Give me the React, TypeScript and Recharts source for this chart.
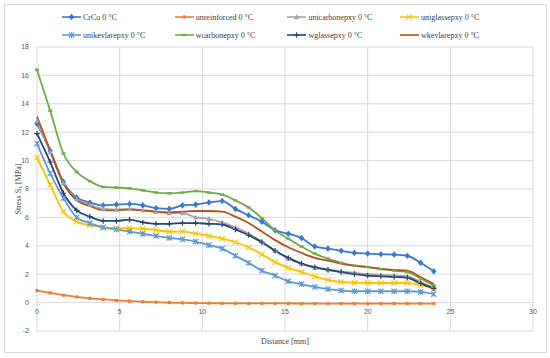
import { LineChart, Line, XAxis, YAxis, CartesianGrid } from 'recharts'

// distance along the sample [mm]
const DIST = [
  0, 0.8, 1.6, 2.4, 3.2, 4.0, 4.8, 5.6, 6.4, 7.2, 8.0, 8.8, 9.6, 10.4, 11.2, 12.0,
  12.8, 13.6, 14.4, 15.2, 16.0, 16.8, 17.6, 18.4, 19.2, 20.0, 20.8, 21.6, 22.4, 23.2, 24.0,
]

// stress Sx [MPa] per material
const CRCO = [
  12.6, 10.7, 8.5, 7.4, 7.05, 6.85, 6.9, 6.95, 6.85, 6.65, 6.6, 6.85, 6.9, 7.05, 7.15, 6.6,
  6.15, 5.7, 5.1, 4.85, 4.55, 3.95, 3.8, 3.65, 3.5, 3.45, 3.4, 3.38, 3.3, 2.8, 2.2,
]
const UNREINFORCED = [
  0.85, 0.68, 0.52, 0.4, 0.3, 0.22, 0.15, 0.1, 0.06, 0.03, 0.0, -0.02, -0.03, -0.04, -0.05, -0.05,
  -0.06, -0.06, -0.06, -0.06, -0.07, -0.07, -0.07, -0.07, -0.07, -0.07, -0.07, -0.07, -0.07, -0.07, -0.07,
]
const UNICARBON = [
  12.8, 10.6, 8.4, 7.3, 6.9, 6.6, 6.55, 6.6, 6.5, 6.4, 6.3, 6.3, 6.0, 5.9, 5.65, 5.3,
  4.85, 4.3, 3.65, 3.1, 2.75, 2.45, 2.35, 2.2, 2.1, 2.0, 1.95, 1.9, 1.85, 1.45, 1.05,
]
const UNIGLASS = [
  10.2, 8.3, 6.4, 5.7, 5.45, 5.3, 5.25, 5.25, 5.2, 5.1, 5.0, 5.0, 4.85, 4.7, 4.5, 4.25,
  3.9, 3.4, 2.85, 2.45, 2.15, 1.85, 1.6, 1.45, 1.4, 1.38, 1.38, 1.38, 1.38, 1.25, 0.95,
]
const UNIKEVLAR = [
  11.2, 9.1, 7.35, 6.0, 5.6, 5.3, 5.15, 5.0, 4.85, 4.7, 4.55, 4.45, 4.3, 4.05, 3.8, 3.3,
  2.8, 2.25, 1.9, 1.5, 1.3, 1.1, 0.95, 0.85, 0.8, 0.8, 0.8, 0.8, 0.8, 0.75, 0.6,
]
const WCARBON = [
  16.4, 13.5, 10.5, 9.2, 8.55, 8.15, 8.1, 8.05, 7.9, 7.75, 7.7, 7.75, 7.85, 7.75, 7.6, 7.2,
  6.7, 5.95, 5.1, 4.5, 3.95, 3.45, 3.1, 2.8, 2.6, 2.5, 2.35, 2.25, 2.15, 1.7, 1.2,
]
const WGLASS = [
  11.9, 9.9, 7.7, 6.5, 6.05, 5.75, 5.75, 5.85, 5.65, 5.55, 5.55, 5.6, 5.6, 5.55, 5.5, 5.15,
  4.75, 4.25, 3.65, 3.15, 2.75, 2.5, 2.3, 2.15, 2.0, 1.9, 1.85, 1.8, 1.75, 1.35, 1.0,
]
const WKEVLAR = [
  13.1, 10.7, 8.4, 7.2, 6.8, 6.5, 6.5, 6.55, 6.5, 6.4, 6.35, 6.4, 6.45, 6.45, 6.4, 6.05,
  5.6, 5.0, 4.4, 3.9, 3.5, 3.15, 2.95, 2.75, 2.6, 2.5, 2.4, 2.3, 2.25, 1.8, 1.3,
]

const X_TICKS = [0, 5, 10, 15, 20, 25, 30]
const Y_TICKS = [-2, 0, 2, 4, 6, 8, 10, 12, 14, 16, 18]
const Y_MIN = -2
const Y_MAX = 18

type Shape = 'diamond' | 'square' | 'triangle' | 'x' | 'star' | 'dash' | 'plus' | 'none'

const SERIES: { key: string; name: string; color: string; shape: Shape; values: number[] }[] = [
  { key: 'crco', name: 'CrCo 0 °C', color: '#3B78D2', shape: 'diamond', values: CRCO },
  { key: 'unre', name: 'unreinforced 0 °C', color: '#ED7D31', shape: 'square', values: UNREINFORCED },
  { key: 'ucarb', name: 'unicarbonepxy 0 °C', color: '#A5A5A5', shape: 'triangle', values: UNICARBON },
  { key: 'uglass', name: 'uniglassepxy 0 °C', color: '#FFC000', shape: 'x', values: UNIGLASS },
  { key: 'ukev', name: 'unikevlarepxy 0 °C', color: '#5B9BD5', shape: 'star', values: UNIKEVLAR },
  { key: 'wcarb', name: 'wcarbonepxy 0 °C', color: '#70AD47', shape: 'dash', values: WCARBON },
  { key: 'wglass', name: 'wglassepxy 0 °C', color: '#264478', shape: 'plus', values: WGLASS },
  { key: 'wkev', name: 'wkevlarepxy 0 °C', color: '#B5541C', shape: 'none', values: WKEVLAR },
]

const rows = DIST.map((d, i) => {
  const row: Record<string, number> = { d }
  SERIES.forEach((s) => {
    row[s.key] = s.values[i]
  })
  return row
})

const W = 550
const H = 358
const M = { top: 47, right: 17, bottom: 0, left: 0 }
const Y_AXIS_W = 37
const X_AXIS_H = 27
const PLOT_H = H - M.top - M.bottom - X_AXIS_H
const ZERO_SHIFT = (PLOT_H * (0 - Y_MIN)) / (Y_MAX - Y_MIN)

const SERIF = '"Liberation Serif", "Times New Roman", serif'
const SANS = '"Liberation Sans", Arial, sans-serif'

function Marker({ shape, cx, cy, color }: { shape: Shape; cx: number; cy: number; color: string }) {
  const r = 2.7
  switch (shape) {
    case 'diamond':
      return <path d={`M${cx},${cy - r - 0.6}L${cx + r},${cy}L${cx},${cy + r + 0.6}L${cx - r},${cy}Z`} fill={color} />
    case 'square':
      return <rect x={cx - 1.6} y={cy - 1.6} width={3.2} height={3.2} fill={color} />
    case 'triangle':
      return <path d={`M${cx},${cy - r}L${cx + r},${cy + r * 0.8}L${cx - r},${cy + r * 0.8}Z`} fill={color} />
    case 'x':
      return (
        <path d={`M${cx - r},${cy - r}L${cx + r},${cy + r}M${cx + r},${cy - r}L${cx - r},${cy + r}`} stroke={color} strokeWidth={1.1} fill="none" />
      )
    case 'star':
      return (
        <path
          d={`M${cx - r},${cy - r}L${cx + r},${cy + r}M${cx + r},${cy - r}L${cx - r},${cy + r}M${cx},${cy - r}L${cx},${cy + r}`}
          stroke={color}
          strokeWidth={1.1}
          fill="none"
        />
      )
    case 'dash':
      return <rect x={cx - 2} y={cy - 1.2} width={4} height={2.4} fill={color} />
    case 'plus':
      return <path d={`M${cx - r},${cy}L${cx + r},${cy}M${cx},${cy - r}L${cx},${cy + r}`} stroke={color} strokeWidth={1.2} fill="none" />
    default:
      return null
  }
}

function Legend() {
  return (
    <div
      style={{
        position: 'absolute',
        left: 62,
        top: 11,
        width: 460,
        display: 'grid',
        gridTemplateColumns: 'repeat(4, 112.7px)',
        rowGap: 6,
        fontFamily: SERIF,
        fontSize: 8,
        color: '#404040',
      }}
    >
      {SERIES.map((s) => (
        <div key={s.key} style={{ display: 'flex', alignItems: 'center', height: 12 }}>
          <svg width={19} height={10} style={{ marginRight: 2 }}>
            <line x1={0} y1={5} x2={19} y2={5} stroke={s.color} strokeWidth={1.6} />
            <Marker shape={s.shape} cx={9.5} cy={5} color={s.color} />
          </svg>
          <span>{s.name}</span>
        </div>
      ))}
    </div>
  )
}

function XTick({ x, y, payload }: any) {
  return (
    <text x={x} y={y - ZERO_SHIFT + 11} textAnchor="middle" fontSize={7} fill="#595959" fontFamily={SANS}>
      {payload.value}
    </text>
  )
}

function YTitle({ viewBox }: any) {
  const cx = 18
  const cy = viewBox.y + viewBox.height / 2
  return (
    <text x={cx} y={cy} transform={`rotate(-90 ${cx} ${cy})`} textAnchor="middle" dominantBaseline="central" fontSize={8} fill="#404040" fontFamily={SERIF}>
      Stress S<tspan fontSize={5.5} dy={2}>x</tspan>
      <tspan dy={-2}> [MPa]</tspan>
    </text>
  )
}

function XTitle({ viewBox }: any) {
  return (
    <text x={viewBox.x + viewBox.width / 2} y={viewBox.y + 13} textAnchor="middle" fontSize={8} fill="#404040" fontFamily={SERIF}>
      Distance [mm]
    </text>
  )
}

export default function App() {
  return (
    <div style={{ position: 'absolute', left: 0, top: 0, width: W, height: H, background: '#fff' }}>
      <div style={{ position: 'absolute', left: 4, top: 4, width: 541, height: 347, border: '1px solid #D9D9D9' }} />
      <LineChart width={W} height={H} data={rows} margin={M}>
        <CartesianGrid stroke="#D9D9D9" strokeWidth={1} />
        <XAxis
          dataKey="d"
          type="number"
          domain={[0, 30]}
          ticks={X_TICKS}
          axisLine={false}
          tickLine={false}
          tickSize={0}
          tickMargin={0}
          height={X_AXIS_H}
          tick={<XTick />}
          label={{ content: XTitle }}
        />
        <YAxis
          type="number"
          domain={[Y_MIN, Y_MAX]}
          ticks={Y_TICKS}
          width={Y_AXIS_W}
          axisLine={false}
          tickLine={false}
          tickSize={0}
          tickMargin={8}
          tick={{ fontSize: 7, fill: '#595959', fontFamily: SANS }}
          label={{ content: YTitle }}
        />
        {SERIES.map((s) => (
          <Line
            key={s.key}
            dataKey={s.key}
            name={s.name}
            type="monotone"
            stroke={s.color}
            strokeWidth={1.8}
            isAnimationActive={false}
            dot={(p: any) => <Marker key={`${s.key}-${p.index}`} shape={s.shape} cx={p.cx} cy={p.cy} color={s.color} />}
            activeDot={false}
          />
        ))}
      </LineChart>
      <Legend />
    </div>
  )
}
